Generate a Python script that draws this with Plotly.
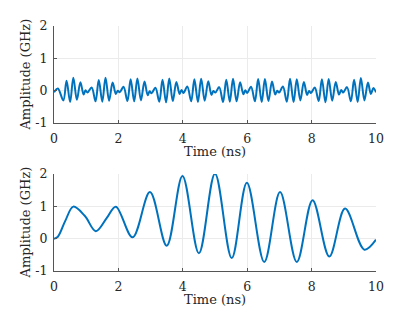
import plotly.graph_objects as go
from plotly.subplots import make_subplots

# Top panel: sampled extrema of the fast signal (time in ns, amplitude in GHz)
top_t = [0.00, 0.12, 0.29, 0.39, 0.50, 0.60, 0.71, 0.82, 0.92, 0.98,
         1.04, 1.17, 1.29, 1.39, 1.50, 1.60, 1.71, 1.82, 1.92, 1.98,
         2.04, 2.16, 2.28, 2.38, 2.49, 2.59, 2.70, 2.81, 2.91, 2.97,
         3.03, 3.15, 3.27, 3.37, 3.48, 3.58, 3.69, 3.80, 3.90, 3.96,
         4.02, 4.14, 4.26, 4.36, 4.47, 4.57, 4.68, 4.79, 4.89, 4.95,
         5.01, 5.13, 5.25, 5.35, 5.46, 5.56, 5.67, 5.78, 5.88, 5.94,
         6.00, 6.12, 6.24, 6.34, 6.45, 6.55, 6.66, 6.77, 6.87, 6.93,
         6.99, 7.11, 7.23, 7.33, 7.44, 7.54, 7.65, 7.76, 7.86, 7.92,
         7.98, 8.10, 8.22, 8.32, 8.43, 8.53, 8.64, 8.75, 8.85, 8.92,
         8.98, 9.10, 9.22, 9.32, 9.43, 9.53, 9.64, 9.75, 9.84, 9.92, 10.00]
top_y = [-0.05, 0.07, -0.30, 0.31, -0.35, 0.40, -0.28, 0.26, -0.12, 0.01,
         -0.06, 0.10, -0.33, 0.33, -0.34, 0.40, -0.31, 0.25, -0.10, 0.00,
         -0.05, 0.12, -0.32, 0.35, -0.33, 0.38, -0.30, 0.28, -0.14, -0.02,
         -0.08, 0.09, -0.34, 0.34, -0.36, 0.38, -0.32, 0.27, -0.10, 0.02,
         -0.07, 0.13, -0.33, 0.35, -0.35, 0.37, -0.31, 0.29, -0.13, -0.01,
         -0.06, 0.11, -0.35, 0.34, -0.34, 0.37, -0.33, 0.26, -0.11, 0.01,
         -0.07, 0.12, -0.33, 0.36, -0.35, 0.36, -0.32, 0.28, -0.12, 0.00,
         -0.06, 0.13, -0.34, 0.37, -0.35, 0.35, -0.30, 0.27, -0.13, -0.01,
         -0.07, 0.10, -0.32, 0.35, -0.36, 0.36, -0.31, 0.27, -0.12, 0.02,
         -0.06, 0.11, -0.33, 0.34, -0.35, 0.39, -0.30, 0.25, -0.10, 0.08, -0.05]

# Bottom panel
bot_t = [0.00, 0.12, 0.35, 0.60, 0.96, 1.30, 1.64, 1.92, 2.44, 2.98, 3.50, 3.99,
         4.50, 5.00, 5.52, 5.99, 6.53, 7.02, 7.54, 8.03, 8.55, 9.04, 9.64, 10.00]
bot_y = [0.00, 0.06, 0.55, 0.99, 0.70, 0.23, 0.64, 0.99, 0.04, 1.44, -0.22, 1.94,
         -0.45, 2.01, -0.60, 1.73, -0.72, 1.44, -0.72, 1.19, -0.55, 0.93, -0.34, -0.03]

x_ticks = [0, 2, 4, 6, 8, 10]
y_ticks = [-1, 0, 1, 2]
y_tick_labels = ["-1", "0", "1", "2"]
x_title = "Time (ns)"
y_title = "Amplitude (GHz)"

LINE = "#0072BD"
FONT = "DejaVu Serif"
TXT = "#262626"

fig = make_subplots(rows=2, cols=1, vertical_spacing=0.0)
fig.add_trace(go.Scatter(x=top_t, y=top_y, mode="lines",
                         line=dict(color=LINE, width=2, shape="spline")), row=1, col=1)
fig.add_trace(go.Scatter(x=bot_t, y=bot_y, mode="lines",
                         line=dict(color=LINE, width=2, shape="spline")), row=2, col=1)

axis_common = dict(showline=True, linecolor="#555555", linewidth=1,
                   ticks="inside", ticklen=3, tickcolor="#555555",
                   showgrid=True, gridcolor="#ebebeb", gridwidth=1,
                   zeroline=False, mirror=False, automargin=False,
                   tickfont=dict(family=FONT, size=12.5, color=TXT))

fig.update_xaxes(range=[0, 10], tickvals=x_ticks, ticklabelstandoff=4, **axis_common)
fig.update_yaxes(range=[-1, 2], tickvals=y_ticks, ticktext=y_tick_labels,
                 ticklabelstandoff=3, **axis_common)
fig.update_layout(
    xaxis=dict(domain=[0, 1]), yaxis=dict(domain=[0.604, 1.0]),
    xaxis2=dict(domain=[0, 1]), yaxis2=dict(domain=[0.0, 0.396]),
)

tfont = dict(family=FONT, size=13, color=TXT)
for yc in (0.802, 0.198):
    fig.add_annotation(text=y_title, xref="paper", yref="paper", x=-0.09, y=yc,
                       textangle=-90, showarrow=False, xanchor="center", yanchor="middle",
                       font=tfont)
for yc in (0.486, -0.116):
    fig.add_annotation(text=x_title, xref="paper", yref="paper", x=0.5, y=yc,
                       showarrow=False, xanchor="center", yanchor="middle", font=tfont)

# the page body adds an 8px offset, so the figure is 407x304 and margins are shifted
fig.update_layout(width=407, height=304, showlegend=False,
                  margin=dict(l=46, r=39, t=18, b=41),
                  paper_bgcolor="white", plot_bgcolor="white",
                  font=dict(family=FONT, size=13, color=TXT))

fig.write_html("out.html")
